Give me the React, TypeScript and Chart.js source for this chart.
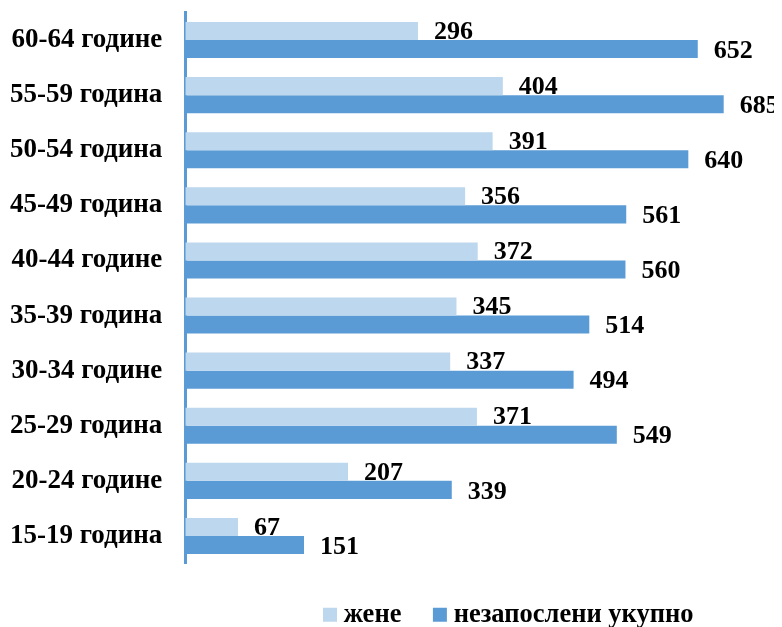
import React, { useEffect, useRef } from "react";
import { Chart, registerables } from "chart.js";

Chart.register(...registerables);

const categories = [
  "60-64 године",
  "55-59 година",
  "50-54 година",
  "45-49 година",
  "40-44 године",
  "35-39 година",
  "30-34 године",
  "25-29 година",
  "20-24 године",
  "15-19 година",
];
const seriesNames = ["жене", "незапослени укупно"];
const women = [296, 404, 391, 356, 372, 345, 337, 371, 207, 67];
const total = [652, 685, 640, 561, 560, 514, 494, 549, 339, 151];

const FONT_FAMILY = "'Liberation Serif', 'Times New Roman', serif";
const LIGHT = "#bdd7ee";
const DARK = "#5b9bd5";

const valueLabels = {
  id: "valueLabels",
  afterDatasetsDraw(chart: any) {
    const ctx = chart.ctx;
    ctx.save();
    ctx.font = `bold 26px ${FONT_FAMILY}`;
    ctx.fillStyle = "#000";
    ctx.textAlign = "left";
    ctx.textBaseline = "middle";
    chart.data.datasets.forEach((ds: any, di: number) => {
      const meta = chart.getDatasetMeta(di);
      meta.data.forEach((bar: any, i: number) => {
        ctx.fillText(String(ds.data[i]), bar.x + 16, bar.y + (di === 0 ? 1 : 2));
      });
    });
    ctx.restore();
  },
};

const legendShift = {
  id: "legendShift",
  afterLayout(chart: any) {
    const lg = chart.legend;
    if (!lg) return;
    const w = lg.right - lg.left;
    lg.left = 283.5;
    lg.right = lg.left + w;
  },
};

export default function App() {
  const ref = useRef<HTMLCanvasElement>(null);
  useEffect(() => {
    if (!ref.current) return;
    const chart = new Chart(ref.current, {
      type: "bar",
      data: {
        labels: categories,
        datasets: [
          { label: seriesNames[0], data: women, backgroundColor: LIGHT, borderWidth: 0 },
          { label: seriesNames[1], data: total, backgroundColor: DARK, borderWidth: 0 },
        ],
      },
      options: {
        indexAxis: "y",
        animation: false,
        responsive: true,
        maintainAspectRatio: false,
        layout: { padding: { top: 4.5, left: 2, right: 0, bottom: 0 } },
        datasets: { bar: { barPercentage: 1, categoryPercentage: 0.6545 } },
        scales: {
          x: { display: false, min: 0, max: 749 },
          y: {
            grid: { display: false, drawTicks: true, tickLength: 23 },
            border: { display: true, color: DARK, width: 3 },
            ticks: {
              color: "#000",
              padding: 0,
              font: { family: FONT_FAMILY, size: 27, weight: "bold" },
            },
            afterFit(scale: any) {
              scale.paddingTop = 0;
              scale.paddingBottom = 0;
            },
          },
        },
        plugins: {
          tooltip: { enabled: false },
          legend: {
            position: "bottom",
            align: "start",
            maxHeight: 63.5,
            labels: {
              usePointStyle: true,
              pointStyle: "rect",
              boxWidth: 1,
              boxHeight: 14,
              padding: 38,
              color: "#000",
              font: { family: FONT_FAMILY, size: 26.5, weight: "bold" },
            },
          },
        },
      },
      plugins: [valueLabels, legendShift],
    });
    return () => chart.destroy();
  }, []);
  return (
    <div style={{ position: "relative", width: 766, height: 619 }}>
      <canvas ref={ref} />
    </div>
  );
}
